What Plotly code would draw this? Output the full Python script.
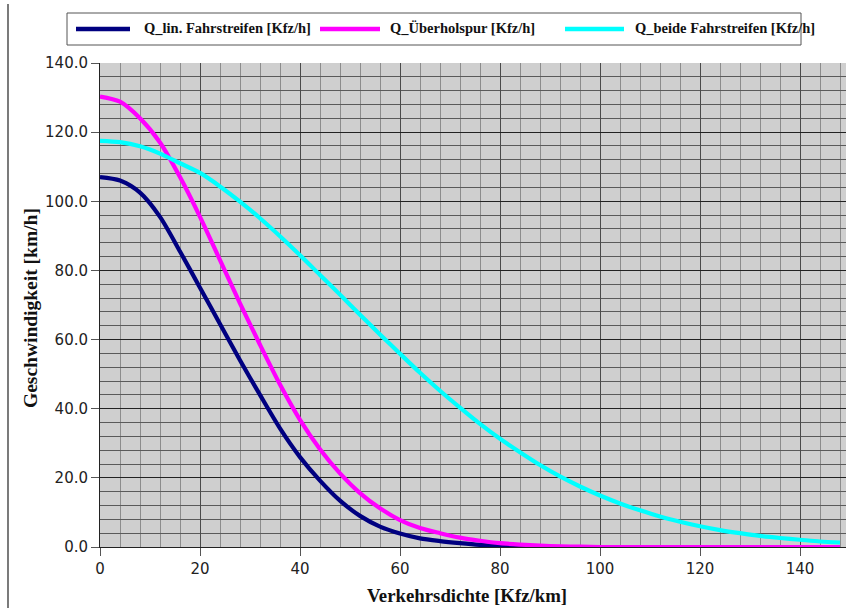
import plotly.graph_objects as go

# ---- data ----
dichte = [0, 4, 8, 12, 16, 20, 24, 28, 32, 36, 40, 44, 48, 52, 56, 60, 64, 68, 72, 76,
          80, 84, 88, 92, 96, 100, 104, 108, 112, 116, 120, 124, 128, 132, 136, 140, 144, 148]
q_lin = [107, 106, 102.5, 95.5, 85.5, 75, 64.5, 54, 44, 34.3, 26, 19.2, 13.4, 9, 5.9, 3.9,
         2.5, 1.7, 1.1, 0.6, 0.3, 0.1, 0, 0, 0, 0, 0, 0, 0, 0, 0, 0, 0, 0, 0, 0, 0, 0]
q_ueber = [130.3, 128.8, 124, 117, 107, 95.5, 83, 70.5, 58.5, 47, 36.8, 28.3, 21.3, 15.6,
           11.2, 7.8, 5.5, 4.0, 2.7, 1.8, 1.1, 0.7, 0.4, 0.2, 0.1, 0, 0, 0, 0, 0, 0, 0, 0,
           0, 0, 0, 0, 0]
q_beide = [117.5, 117.1, 115.9, 113.8, 111, 108.2, 104.3, 99.9, 95.1, 89.9, 84.4, 78.7, 73,
           67.2, 61.5, 55.9, 50.4, 45.2, 40.3, 35.6, 31.3, 27.4, 23.7, 20.4, 17.5, 14.9,
           12.6, 10.6, 8.8, 7.3, 6.0, 4.9, 4.0, 3.2, 2.6, 2.1, 1.6, 1.3]

names = ["Q_lin. Fahrstreifen [Kfz/h]", "Q_Überholspur [Kfz/h]", "Q_beide Fahrstreifen [Kfz/h]"]
colors = ["#000080", "#ff00ff", "#00ffff"]
x_ticks = [0, 20, 40, 60, 80, 100, 120, 140]
y_ticks = [0, 20, 40, 60, 80, 100, 120, 140]

W, H = 846, 609
ML, MR, MT, MB = 100, 0, 63, 62


def px(x):
    return (x - ML) / (W - ML - MR)


def py(y):
    return (H - MB - y) / (H - MT - MB)


fig = go.Figure()
for ys, n, c in zip([q_lin, q_ueber, q_beide], names, colors):
    fig.add_trace(go.Scatter(x=dichte, y=ys, mode="lines", name=n,
                             line=dict(color=c, width=4.2, shape="spline", smoothing=0.8),
                             showlegend=False))

tickfont = dict(family="DejaVu Sans", size=15, color="#222")
fig.update_layout(
    width=W, height=H,
    margin=dict(l=ML, r=MR, t=MT, b=MB),
    paper_bgcolor="white",
    plot_bgcolor="#cfcfcf",
    xaxis=dict(range=[0, 149.2], tickvals=x_ticks, ticktext=[str(v) for v in x_ticks],
               ticks="outside", ticklen=8, tickcolor="#555", tickfont=tickfont,
               showgrid=True, gridcolor="#4a4a4a", gridwidth=1, zeroline=False,
               showline=True, linecolor="#222", linewidth=1,
               minor=dict(dtick=4, tick0=0, showgrid=True, gridcolor="#8c8c8c", gridwidth=1)),
    yaxis=dict(range=[0, 140], tickvals=y_ticks, ticktext=[f"{v:.1f}" for v in y_ticks],
               ticks="outside", ticklen=8, tickcolor="#555", tickfont=tickfont,
               showgrid=True, gridcolor="#222", gridwidth=1, zeroline=False,
               showline=True, linecolor="#222", linewidth=1,
               minor=dict(dtick=4, tick0=0, showgrid=True, gridcolor="#5a5a5a", gridwidth=1)),
)

annotations = [
    dict(text="<b>Verkehrsdichte [Kfz/km]</b>", x=px(467), y=py(595), xref="paper", yref="paper",
         xanchor="center", yanchor="middle", showarrow=False,
         font=dict(family="Liberation Serif", size=18.8, color="#111")),
    dict(text="<b>Geschwindigkeit [km/h]</b>", x=px(30), y=py(308), xref="paper", yref="paper",
         xanchor="center", yanchor="middle", showarrow=False, textangle=-90,
         font=dict(family="Liberation Serif", size=19.5, color="#111")),
]

shapes = [
    dict(type="line", xref="paper", yref="paper", x0=px(8), x1=px(8), y0=py(4), y1=py(608),
         line=dict(color="#222", width=1.2)),
    dict(type="rect", xref="paper", yref="paper", x0=px(67), x1=px(801), y0=py(13), y1=py(45),
         line=dict(color="#555", width=1), fillcolor="rgba(0,0,0,0)"),
]

leg_lines = [(76, 130), (320, 380), (565, 624)]
leg_text_x = [142, 388, 633]
legfont = dict(family="Liberation Serif", size=14.5, color="#111")
for (a, b), tx, n, c in zip(leg_lines, leg_text_x, names, colors):
    shapes.append(dict(type="line", xref="paper", yref="paper", x0=px(a), x1=px(b),
                       y0=py(29), y1=py(29), line=dict(color=c, width=4.5)))
    annotations.append(dict(text=f"<b>{n}</b>", x=px(tx), y=py(28), xref="paper", yref="paper",
                            xanchor="left", yanchor="middle", showarrow=False, font=legfont))

fig.update_layout(annotations=annotations, shapes=shapes)
fig.write_html("out.html")
